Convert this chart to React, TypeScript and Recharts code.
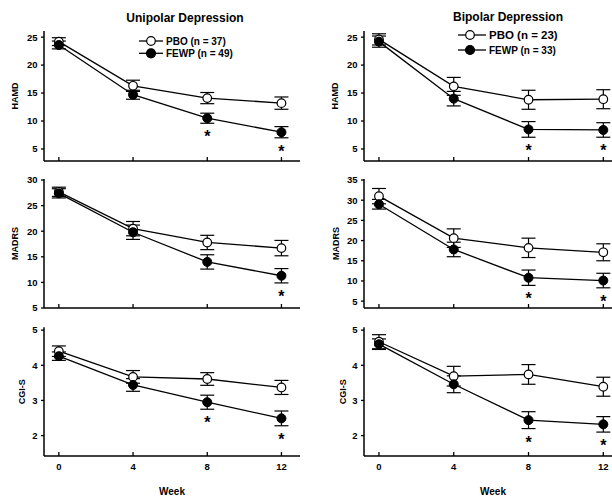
import React from "react";
import { LineChart, Line, XAxis, YAxis, ErrorBar } from "recharts";

const FONT = "'Liberation Sans', Arial, sans-serif";

const weeks = [0, 4, 8, 12];

// HAMD
const uniHamdPbo = [24.2, 16.3, 14.1, 13.2];
const uniHamdPboSe = [0.7, 1.0, 1.0, 1.1];
const uniHamdFewp = [23.6, 14.7, 10.5, 8.0];
const uniHamdFewpSe = [0.7, 0.8, 0.9, 1.0];
const uniHamdSig = [8, 12];

const bipHamdPbo = [24.6, 16.2, 13.8, 13.9];
const bipHamdPboSe = [1.0, 1.6, 1.7, 1.7];
const bipHamdFewp = [24.2, 14.0, 8.5, 8.4];
const bipHamdFewpSe = [1.0, 1.3, 1.4, 1.3];
const bipHamdSig = [8, 12];

// MADRS
const uniMadrsPbo = [27.7, 20.5, 17.8, 16.7];
const uniMadrsPboSe = [0.9, 1.4, 1.4, 1.5];
const uniMadrsFewp = [27.4, 19.8, 14.0, 11.3];
const uniMadrsFewpSe = [0.9, 1.4, 1.4, 1.4];
const uniMadrsSig = [12];

const bipMadrsPbo = [31.0, 20.6, 18.2, 17.1];
const bipMadrsPboSe = [1.9, 2.3, 2.4, 2.1];
const bipMadrsFewp = [29.0, 17.8, 10.8, 10.1];
const bipMadrsFewpSe = [1.2, 1.8, 1.9, 1.8];
const bipMadrsSig = [8, 12];

// CGI-S
const uniCgiPbo = [4.4, 3.67, 3.61, 3.37];
const uniCgiPboSe = [0.15, 0.18, 0.18, 0.2];
const uniCgiFewp = [4.26, 3.44, 2.95, 2.49];
const uniCgiFewpSe = [0.12, 0.18, 0.2, 0.21];
const uniCgiSig = [8, 12];

const bipCgiPbo = [4.67, 3.69, 3.74, 3.39];
const bipCgiPboSe = [0.2, 0.28, 0.28, 0.27];
const bipCgiFewp = [4.6, 3.46, 2.44, 2.32];
const bipCgiFewpSe = [0.15, 0.24, 0.24, 0.22];
const bipCgiSig = [8, 12];

const hamdTicks = [5, 10, 15, 20, 25];
const uniMadrsTicks = [5, 10, 15, 20, 25, 30];
const bipMadrsTicks = [5, 10, 15, 20, 25, 30, 35];
const cgiTicks = [2, 3, 4, 5];

function buildRows(pbo: number[], pboSe: number[], fewp: number[], fewpSe: number[], sig: number[]) {
  return weeks.map((week, i) => ({
    week,
    pbo: pbo[i],
    pboSe: pboSe[i],
    fewp: fewp[i],
    fewpSe: fewpSe[i],
    low: fewp[i] - fewpSe[i],
    star: sig.includes(week),
  }));
}

const weekTick = (showLabel: boolean) => (props: any) => {
  const { x, y, payload } = props;
  return (
    <g>
      <line x1={x} x2={x} y1={y - 4} y2={y} stroke="#000" strokeWidth={1.3} />
      {showLabel && (
        <text x={x} y={y + 14} textAnchor="middle" fontSize={9.5} fontWeight="bold" fontFamily={FONT} fill="#000">
          {payload.value}
        </text>
      )}
    </g>
  );
};

// asterisk under the lower error bar of significant FEWP points
const starDot = (props: any) => {
  const { cx, cy, payload, index } = props;
  if (!payload || !payload.star || cy == null) return <g key={`s${index}`} />;
  return (
    <text key={`s${index}`} x={cx} y={cy + 19} textAnchor="middle" fontSize={16} fontWeight="bold" fontFamily={FONT} fill="#000">
      *
    </text>
  );
};

const yLabel = (text: string, dx: number) => (props: any) => {
  const vb = props.viewBox;
  const cx = vb.x + dx;
  const cy = vb.y + vb.height / 2;
  return (
    <text x={cx} y={cy} transform={`rotate(-90 ${cx} ${cy})`} textAnchor="middle" dominantBaseline="central"
      fontSize={9} fontWeight="bold" fontFamily={FONT} fill="#000">
      {text}
    </text>
  );
};

const weekLabel = (props: any) => {
  const vb = props.viewBox;
  return (
    <text x={vb.x + vb.width / 2} y={vb.y + 39} textAnchor="middle" fontSize={10} fontWeight="bold" fontFamily={FONT} fill="#000">
      Week
    </text>
  );
};

interface PanelProps {
  left: number;
  top: number;
  width: number;
  height: number;
  marginTop: number;
  axisH: number;
  rows: any[];
  domain: [number, number];
  ticks: number[];
  label: string;
  labelDx: number;
  showWeek: boolean;
}

function Panel({ left, top, width, height, marginTop, axisH, rows, domain, ticks, label, labelDx, showWeek }: PanelProps) {
  return (
    <div style={{ position: "absolute", left, top }}>
      <LineChart width={width} height={height} data={rows} margin={{ top: marginTop, right: 10, bottom: 0, left: 0 }}>
        <XAxis
          type="number"
          dataKey="week"
          domain={[-0.8, 13]}
          ticks={weeks}
          interval={0}
          allowDataOverflow
          height={axisH}
          tickLine={false}
          tickSize={0}
          tickMargin={0}
          axisLine={{ stroke: "#000", strokeWidth: 1.5 }}
          tick={weekTick(showWeek)}
          label={showWeek ? { content: weekLabel } : undefined}
        />
        <YAxis
          type="number"
          domain={domain}
          ticks={ticks}
          interval={0}
          allowDataOverflow
          width={44}
          tickSize={3}
          tickMargin={3.5}
          axisLine={{ stroke: "#000", strokeWidth: 1.5 }}
          tickLine={{ stroke: "#000", strokeWidth: 1.3 }}
          tick={{ fontSize: 9.5, fontWeight: "bold", fill: "#000", fontFamily: FONT }}
          label={{ content: yLabel(label, labelDx) }}
        />
        <Line
          dataKey="pbo"
          stroke="#000"
          strokeWidth={1.3}
          dot={{ r: 4.3, fill: "#fff", stroke: "#000", strokeWidth: 1.2 }}
          activeDot={false}
          isAnimationActive={false}
        >
          <ErrorBar dataKey="pboSe" direction="y" width={7} stroke="#000" strokeWidth={1.2} />
        </Line>
        <Line
          dataKey="fewp"
          stroke="#000"
          strokeWidth={1.3}
          dot={{ r: 4.5, fill: "#000", stroke: "#000", strokeWidth: 1 }}
          activeDot={false}
          isAnimationActive={false}
        >
          <ErrorBar dataKey="fewpSe" direction="y" width={7} stroke="#000" strokeWidth={1.2} />
        </Line>
        <Line dataKey="low" stroke="none" dot={starDot} activeDot={false} isAnimationActive={false} legendType="none" />
      </LineChart>
    </div>
  );
}

function LegendItem({ x1, x2, cx, y, filled, text, size }: any) {
  return (
    <g>
      <line x1={x1} x2={x2} y1={y} y2={y} stroke="#000" strokeWidth={1.3} />
      <circle cx={cx} cy={y} r={filled ? 4.5 : 4.3} fill={filled ? "#000" : "#fff"} stroke="#000" strokeWidth={1.2} />
      <text x={x2 + 3} y={y + size * 0.36} fontSize={size} fontWeight="bold" fontFamily={FONT} fill="#000">
        {text}
      </text>
    </g>
  );
}

export default function App() {
  const L = { left: 0, width: 310 };
  const R = { left: 320, width: 312 };
  const top = { top: 0, height: 175, marginTop: 31, axisH: 14 };
  const mid = { top: 148, height: 175, marginTop: 31, axisH: 15 };
  const bot = { top: 296, height: 202, marginTop: 31.3, axisH: 42 };

  return (
    <div style={{ position: "absolute", left: 0, top: 0, width: 612, height: 498, overflow: "hidden", background: "#fff" }}>
      <Panel {...L} {...top} rows={buildRows(uniHamdPbo, uniHamdPboSe, uniHamdFewp, uniHamdFewpSe, uniHamdSig)}
        domain={[2.85, 26.1]} ticks={hamdTicks} label="HAMD" labelDx={15} showWeek={false} />
      <Panel {...R} {...top} rows={buildRows(bipHamdPbo, bipHamdPboSe, bipHamdFewp, bipHamdFewpSe, bipHamdSig)}
        domain={[2.85, 26.1]} ticks={hamdTicks} label="HAMD" labelDx={15.3} showWeek={false} />
      <Panel {...L} {...mid} rows={buildRows(uniMadrsPbo, uniMadrsPboSe, uniMadrsFewp, uniMadrsFewpSe, uniMadrsSig)}
        domain={[5, 30.2]} ticks={uniMadrsTicks} label="MADRS" labelDx={15} showWeek={false} />
      <Panel {...R} {...mid} rows={buildRows(bipMadrsPbo, bipMadrsPboSe, bipMadrsFewp, bipMadrsFewpSe, bipMadrsSig)}
        domain={[3.3, 35.25]} ticks={bipMadrsTicks} label="MADRS" labelDx={16} showWeek={false} />
      <Panel {...L} {...bot} rows={buildRows(uniCgiPbo, uniCgiPboSe, uniCgiFewp, uniCgiFewpSe, uniCgiSig)}
        domain={[1.42, 5.08]} ticks={cgiTicks} label="CGI-S" labelDx={21.7} showWeek />
      <Panel {...R} {...bot} rows={buildRows(bipCgiPbo, bipCgiPboSe, bipCgiFewp, bipCgiFewpSe, bipCgiSig)}
        domain={[1.42, 5.08]} ticks={cgiTicks} label="CGI-S" labelDx={22.7} showWeek />

      <svg width={612} height={498} style={{ position: "absolute", left: 0, top: 0, pointerEvents: "none" }}>
        <text x={185} y={22.3} textAnchor="middle" fontSize={12} fontWeight="bold" fontFamily={FONT} fill="#000">
          Unipolar Depression
        </text>
        <text x={508} y={21} textAnchor="middle" fontSize={12} fontWeight="bold" fontFamily={FONT} fill="#000">
          Bipolar Depression
        </text>
        <LegendItem x1={139} x2={163} cx={151} y={41} filled={false} text="PBO (n = 37)" size={10} />
        <LegendItem x1={139} x2={163} cx={151} y={53.3} filled text="FEWP (n = 49)" size={10} />
        <LegendItem x1={458} x2={486} cx={470} y={35} filled={false} text="PBO (n = 23)" size={11.5} />
        <LegendItem x1={458} x2={486} cx={470} y={50} filled text="FEWP (n = 33)" size={10} />
      </svg>
    </div>
  );
}
